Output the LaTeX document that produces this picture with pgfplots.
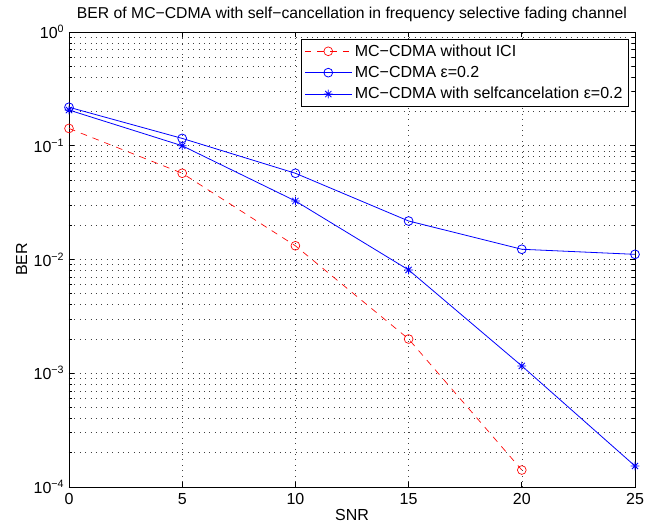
\documentclass[border=0pt]{standalone}
\usepackage{fontspec}
\setmainfont{Liberation Sans}
\usepackage{pgfplots}
\pgfplotsset{compat=1.18}
\pgfdeclareplotmark{matstar}{%
 \pgfpathmoveto{\pgfqpoint{-\pgfplotmarksize}{0pt}}\pgfpathlineto{\pgfqpoint{\pgfplotmarksize}{0pt}}%
 \pgfpathmoveto{\pgfqpoint{0pt}{-\pgfplotmarksize}}\pgfpathlineto{\pgfqpoint{0pt}{\pgfplotmarksize}}%
 \pgfpathmoveto{\pgfqpoint{-0.707\pgfplotmarksize}{-0.707\pgfplotmarksize}}\pgfpathlineto{\pgfqpoint{0.707\pgfplotmarksize}{0.707\pgfplotmarksize}}%
 \pgfpathmoveto{\pgfqpoint{-0.707\pgfplotmarksize}{0.707\pgfplotmarksize}}\pgfpathlineto{\pgfqpoint{0.707\pgfplotmarksize}{-0.707\pgfplotmarksize}}%
 \pgfusepathqstroke}
\begin{document}
\begin{tikzpicture}
\begin{axis}[
 at={(0,0)}, anchor=south west, scale only axis,
 width=424.5pt, height=341.25pt,
 xmin=0, xmax=25, ymin=1e-4, ymax=1,
 ymode=log,
 xtick={0,5,...,25},
 ytick={1e-4,1e-3,1e-2,1e-1,1},
 yticklabels={10\textsuperscript{−4},10\textsuperscript{−3},10\textsuperscript{−2},10\textsuperscript{−1},10\textsuperscript{0}},
 /pgf/number format/assume math mode=true,
 xmajorgrids, ymajorgrids, yminorgrids,
 major grid style={black!75, line width=0.45pt, dash pattern=on 0.45pt off 3.6pt},
 minor grid style={black!75, line width=0.45pt, dash pattern=on 0.45pt off 3.6pt},
 axis line style={black, line width=0.5pt},
 tick style={black, line width=0.5pt},
 major tick length=4pt, minor tick length=2pt,
 tick align=inside,
 xtick pos=both, ytick pos=both,
 tick label style={font=\fontsize{12}{14}\selectfont},
 xticklabel style={yshift=-1pt},
 label style={font=\fontsize{12}{14}\selectfont},
 xlabel style={yshift=3pt},
 ylabel style={yshift=-2pt},
 title style={font=\fontsize{11.8}{14}\selectfont, yshift=-2pt},
 xlabel={SNR}, ylabel={BER},
 title={BER of MC−CDMA with self−cancellation in frequency selective fading channel},
 legend style={at={(0.988,0.985)}, anchor=north east, draw=black, line width=0.5pt,
   font=\fontsize{12}{14}\selectfont, inner sep=2pt, row sep=2pt},
 legend cell align=left,
 legend image code/.code={\draw[mark repeat=2,mark phase=2] plot coordinates {(0cm,0cm) (0.62cm,0cm) (1.24cm,0cm)};},
]
\addplot[red, line width=0.5pt, dash pattern=on 5pt off 4.5pt, mark=o, mark size=3.3pt, mark options={solid}]
 coordinates {(0,0.142) (5,0.0573) (10,0.0132) (15,0.0020) (20,0.000141)};
\addlegendentry{MC−CDMA without ICI}
\addplot[blue, line width=0.6pt, mark=o, mark size=3.3pt]
 coordinates {(0,0.218) (5,0.116) (10,0.0573) (15,0.0218) (20,0.0123) (25,0.0111)};
\addlegendentry{MC−CDMA ε=0.2}
\addplot[blue, line width=0.6pt, mark=matstar, mark size=3.3pt]
 coordinates {(0,0.206) (5,0.100) (10,0.0327) (15,0.0081) (20,0.00116) (25,0.000153)};
\addlegendentry{MC−CDMA with selfcancelation ε=0.2}
\end{axis}
\pgfresetboundingbox
\path (-51.75pt,-32.25pt) rectangle (432.75pt,365.25pt);
\end{tikzpicture}
\end{document}
